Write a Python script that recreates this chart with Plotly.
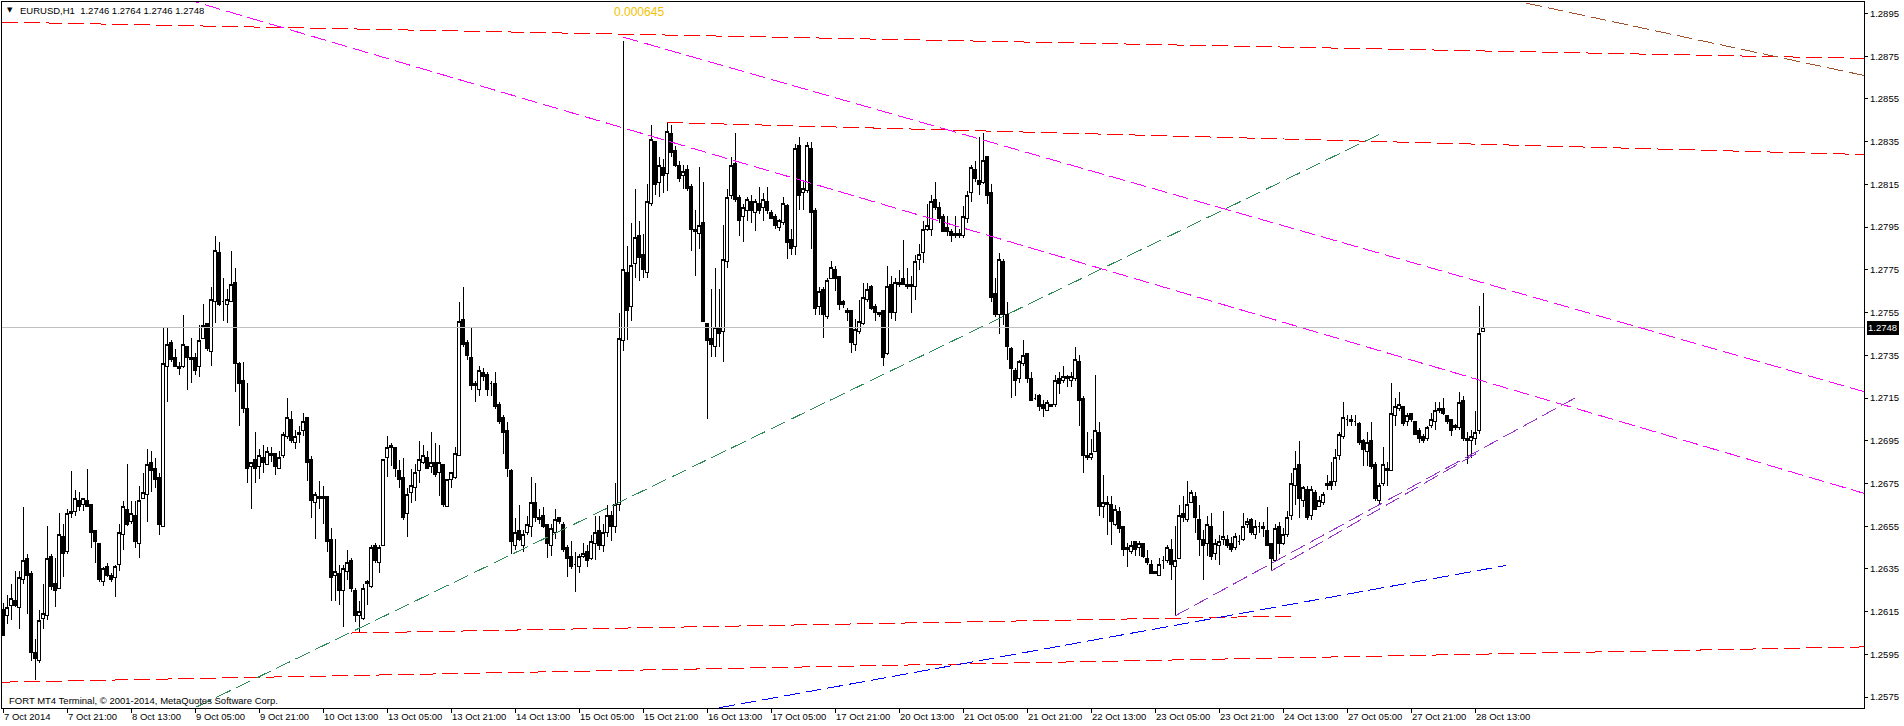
import plotly.graph_objects as go

# ---------------- OHLC data (EURUSD H1, bar index 0 = 7 Oct 2014 05:00) ----------------
opens = [
 1.2616,1.2613,1.2618,1.2620,1.2617,1.2630,1.2640,1.2633,1.2596,1.2592,
 1.2612,1.2613,1.2641,1.2628,1.2626,1.2650,1.2643,1.2662,1.2662,1.2667,
 1.2665,1.2667,1.2665,1.2653,1.2647,1.2629,1.2636,1.2632,1.2631,1.2637,
 1.2651,1.2663,1.2657,1.2660,1.2647,1.2668,1.2670,1.2685,1.2682,1.2678,
 1.2655,1.2730,1.2741,1.2734,1.2730,1.2730,1.2739,1.2734,1.2734,1.2730,
 1.2743,1.2750,1.2737,1.2760,1.2783,1.2760,1.2759,1.2760,1.2769,1.2731,
 1.2723,1.2710,1.2683,1.2686,1.2683,1.2687,1.2684,1.2689,1.2689,1.2682,
 1.2688,1.2697,1.2705,1.2694,1.2698,1.2700,1.2706,1.2686,1.2666,1.2669,
 1.2668,1.2669,1.2649,1.2632,1.2633,1.2625,1.2634,1.2639,1.2625,1.2613,
 1.2612,1.2629,1.2627,1.2646,1.2638,1.2646,1.2687,1.2693,1.2692,1.2681,
 1.2678,1.2661,1.2671,1.2673,1.2681,1.2685,1.2687,1.2683,1.2685,1.2680,
 1.2684,1.2664,1.2677,1.2678,1.2688,1.2752,1.2741,1.2734,1.2722,1.2719,
 1.2727,1.2726,1.2722,1.2722,1.2712,1.2706,1.2700,1.2681,1.2646,1.2653,
 1.2646,1.2652,1.2655,1.2666,1.2658,1.2660,1.2656,1.2646,1.2652,1.2659,
 1.2656,1.2645,1.2641,1.2637,1.2636,1.2641,1.2643,1.2640,1.2647,1.2653,
 1.2646,1.2652,1.2660,1.2655,1.2665,1.2742,1.2774,1.2758,1.2778,1.2791,
 1.2782,1.2774,1.2806,1.2835,1.2816,1.2823,1.2820,1.2839,1.2831,1.2824,
 1.2819,1.2822,1.2814,1.2794,1.2792,1.2797,1.2750,1.2743,1.2739,1.2748,
 1.2746,1.2779,1.2810,1.2825,1.2809,1.2800,1.2803,1.2807,1.2802,1.2806,
 1.2804,1.2807,1.2802,1.2800,1.2795,1.2797,1.2805,1.2789,1.2786,1.2833,
 1.2811,1.2812,1.2832,1.2803,1.2758,1.2766,1.2753,1.2771,1.2775,1.2772,
 1.2760,1.2756,1.2756,1.2740,1.2746,1.2750,1.2761,1.2767,1.2758,1.2755,
 1.2756,1.2736,1.2768,1.2755,1.2768,1.2771,1.2768,1.2767,1.2767,1.2780,
 1.2783,1.2794,1.2794,1.2808,1.2804,1.2800,1.2795,1.2793,1.2792,1.2792,
 1.2791,1.2799,1.2811,1.2822,1.2817,1.2816,1.2828,1.2811,1.2764,1.2754,
 1.2779,1.2754,1.2738,1.2728,1.2724,1.2731,1.2736,1.2724,1.2715,1.2716,
 1.2712,1.2709,1.2712,1.2712,1.2724,1.2723,1.2725,1.2723,1.2724,1.2732,
 1.2715,1.2688,1.2687,1.2690,1.2699,1.2664,1.2665,1.2665,1.2656,1.2662,
 1.2655,1.2645,1.2643,1.2648,1.2645,1.2647,1.2640,1.2637,1.2634,1.2632,
 1.2639,1.2639,1.2644,1.2636,1.2640,1.2661,1.2658,1.2666,1.2669,1.2658,
 1.2649,1.2647,1.2655,1.2642,1.2646,1.2649,1.2649,1.2647,1.2645,1.2648,
 1.2649,1.2656,1.2658,1.2651,1.2655,1.2655,1.2653,1.2647,1.2639,1.2655,
 1.2647,1.2651,1.2660,1.2674,1.2684,1.2667,1.2672,1.2660,1.2671,1.2664,
 1.2666,1.2674,1.2676,1.2676,1.2688,1.2697,1.2705,1.2704,1.2704,1.2703,
 1.2695,1.2690,1.2695,1.2684,1.2667,1.2675,1.2682,1.2681,1.2707,1.2710,
 1.2711,1.2704,1.2708,1.2704,1.2700,1.2697,1.2696,1.2702,1.2704,1.2709,
 1.2710,1.2707,1.2705,1.2701,1.2701,1.2714,1.2696,1.2695,1.2696,1.2700,
 1.2746]

highs = [
 1.2619,1.2623,1.2628,1.2634,1.2634,1.2664,1.2642,1.2634,1.2602,1.2616,
 1.2628,1.2655,1.2642,1.2640,1.2661,1.2656,1.2663,1.2681,1.2672,1.2671,
 1.2668,1.2682,1.2665,1.2653,1.2647,1.2636,1.2638,1.2633,1.2637,1.2656,
 1.2667,1.2684,1.2667,1.2667,1.2674,1.2680,1.2691,1.2690,1.2687,1.2680,
 1.2748,1.2748,1.2742,1.2738,1.2732,1.2754,1.2739,1.2743,1.2736,1.2749,
 1.2759,1.2750,1.2767,1.2791,1.2788,1.2771,1.2766,1.2784,1.2776,1.2732,
 1.2732,1.2722,1.2685,1.2699,1.2691,1.2693,1.2692,1.2692,1.2689,1.2690,
 1.2699,1.2715,1.2709,1.2700,1.2702,1.2708,1.2706,1.2688,1.2671,1.2676,
 1.2674,1.2669,1.2654,1.2649,1.2637,1.2637,1.2644,1.2640,1.2626,1.2620,
 1.2628,1.2630,1.2646,1.2647,1.2646,1.2686,1.2697,1.2694,1.2692,1.2686,
 1.2687,1.2673,1.2682,1.2684,1.2695,1.2693,1.2690,1.2699,1.2694,1.2693,
 1.2684,1.2677,1.2680,1.2692,1.2760,1.2767,1.2742,1.2748,1.2723,1.2730,
 1.2729,1.2727,1.2723,1.2727,1.2713,1.2707,1.2704,1.2682,1.2659,1.2665,
 1.2653,1.2660,1.2678,1.2675,1.2663,1.2664,1.2656,1.2656,1.2663,1.2659,
 1.2657,1.2646,1.2648,1.2643,1.2642,1.2647,1.2646,1.2651,1.2660,1.2660,
 1.2656,1.2665,1.2662,1.2675,1.2755,1.2882,1.2786,1.2797,1.2813,1.2798,
 1.2792,1.2815,1.2843,1.2835,1.2828,1.2827,1.2844,1.2843,1.2833,1.2826,
 1.2824,1.2824,1.2815,1.2803,1.2823,1.2816,1.2750,1.2766,1.2776,1.2766,
 1.2796,1.2813,1.2828,1.2839,1.2810,1.2806,1.2809,1.2810,1.2808,1.2814,
 1.2811,1.2814,1.2803,1.2801,1.2799,1.2809,1.2806,1.2794,1.2834,1.2837,
 1.2817,1.2835,1.2835,1.2804,1.2767,1.2767,1.2771,1.2779,1.2777,1.2772,
 1.2761,1.2757,1.2756,1.2752,1.2761,1.2769,1.2769,1.2768,1.2759,1.2755,
 1.2756,1.2777,1.2772,1.2771,1.2775,1.2789,1.2776,1.2772,1.2782,1.2787,
 1.2798,1.2806,1.2810,1.2816,1.2807,1.2801,1.2800,1.2794,1.2800,1.2794,
 1.2805,1.2812,1.2824,1.2826,1.2837,1.2839,1.2828,1.2815,1.2771,1.2783,
 1.2780,1.2760,1.2739,1.2729,1.2733,1.2742,1.2736,1.2727,1.2717,1.2717,
 1.2714,1.2714,1.2712,1.2726,1.2727,1.2730,1.2726,1.2727,1.2739,1.2735,
 1.2716,1.2699,1.2696,1.2726,1.2704,1.2679,1.2669,1.2669,1.2665,1.2664,
 1.2655,1.2647,1.2648,1.2648,1.2648,1.2647,1.2644,1.2639,1.2634,1.2640,
 1.2641,1.2646,1.2649,1.2655,1.2665,1.2669,1.2676,1.2672,1.2671,1.2665,
 1.2653,1.2660,1.2661,1.2649,1.2651,1.2662,1.2651,1.2650,1.2652,1.2651,
 1.2661,1.2659,1.2659,1.2658,1.2657,1.2657,1.2664,1.2647,1.2656,1.2657,
 1.2654,1.2662,1.2680,1.2690,1.2695,1.2674,1.2674,1.2674,1.2672,1.2669,
 1.2671,1.2679,1.2685,1.2691,1.2699,1.2713,1.2707,1.2707,1.2707,1.2704,
 1.2696,1.2699,1.2704,1.2685,1.2675,1.2692,1.2685,1.2722,1.2715,1.2718,
 1.2711,1.2708,1.2708,1.2704,1.2701,1.2698,1.2702,1.2708,1.2713,1.2713,
 1.2715,1.2707,1.2705,1.2703,1.2718,1.2716,1.2699,1.2700,1.2709,1.2758,
 1.2764]

lows = [
 1.2604,1.2609,1.2611,1.2617,1.2607,1.2628,1.2614,1.2592,1.2583,1.2591,
 1.2607,1.2611,1.2625,1.2617,1.2626,1.2631,1.2642,1.2659,1.2660,1.2662,
 1.2662,1.2664,1.2645,1.2638,1.2629,1.2627,1.2631,1.2629,1.2622,1.2634,
 1.2644,1.2655,1.2656,1.2645,1.2640,1.2668,1.2657,1.2671,1.2673,1.2651,
 1.2655,1.2713,1.2732,1.2730,1.2726,1.2729,1.2719,1.2722,1.2726,1.2725,
 1.2743,1.2737,1.2730,1.2750,1.2758,1.2751,1.2750,1.2760,1.2718,1.2702,
 1.2708,1.2675,1.2663,1.2675,1.2677,1.2680,1.2684,1.2685,1.2679,1.2682,
 1.2687,1.2696,1.2694,1.2691,1.2694,1.2697,1.2676,1.2659,1.2649,1.2663,
 1.2656,1.2643,1.2620,1.2620,1.2618,1.2608,1.2630,1.2624,1.2610,1.2605,
 1.2611,1.2618,1.2626,1.2638,1.2633,1.2646,1.2678,1.2683,1.2678,1.2673,
 1.2658,1.2650,1.2666,1.2667,1.2675,1.2684,1.2682,1.2680,1.2678,1.2669,
 1.2664,1.2664,1.2673,1.2677,1.2688,1.2739,1.2733,1.2719,1.2713,1.2716,
 1.2723,1.2716,1.2716,1.2710,1.2703,1.2689,1.2678,1.2642,1.2644,1.2648,
 1.2643,1.2651,1.2650,1.2657,1.2656,1.2654,1.2640,1.2641,1.2649,1.2656,
 1.2643,1.2631,1.2635,1.2624,1.2633,1.2640,1.2636,1.2639,1.2639,1.2644,
 1.2643,1.2650,1.2648,1.2652,1.2662,1.2737,1.2742,1.2751,1.2771,1.2770,
 1.2771,1.2771,1.2805,1.2810,1.2809,1.2811,1.2812,1.2828,1.2823,1.2816,
 1.2813,1.2812,1.2784,1.2772,1.2785,1.2751,1.2705,1.2734,1.2734,1.2739,
 1.2732,1.2776,1.2808,1.2807,1.2791,1.2788,1.2798,1.2797,1.2793,1.2801,
 1.2798,1.2801,1.2799,1.2794,1.2793,1.2796,1.2780,1.2782,1.2782,1.2803,
 1.2803,1.2811,1.2785,1.2754,1.2754,1.2743,1.2752,1.2771,1.2765,1.2756,
 1.2757,1.2751,1.2736,1.2737,1.2745,1.2749,1.2760,1.2756,1.2751,1.2753,
 1.2730,1.2735,1.2752,1.2751,1.2767,1.2768,1.2766,1.2755,1.2761,1.2775,
 1.2778,1.2793,1.2791,1.2803,1.2797,1.2793,1.2791,1.2788,1.2790,1.2790,
 1.2790,1.2797,1.2807,1.2816,1.2810,1.2815,1.2806,1.2760,1.2753,1.2745,
 1.2749,1.2733,1.2715,1.2716,1.2722,1.2730,1.2722,1.2714,1.2714,1.2709,
 1.2706,1.2709,1.2711,1.2711,1.2717,1.2722,1.2720,1.2720,1.2723,1.2702,
 1.2680,1.2686,1.2686,1.2690,1.2660,1.2659,1.2651,1.2646,1.2655,1.2652,
 1.2641,1.2636,1.2642,1.2641,1.2641,1.2640,1.2637,1.2633,1.2633,1.2632,
 1.2635,1.2638,1.2630,1.2613,1.2640,1.2657,1.2657,1.2666,1.2652,1.2641,
 1.2630,1.2641,1.2639,1.2639,1.2637,1.2646,1.2645,1.2643,1.2644,1.2646,
 1.2648,1.2654,1.2651,1.2649,1.2652,1.2650,1.2646,1.2634,1.2639,1.2642,
 1.2646,1.2650,1.2658,1.2665,1.2659,1.2664,1.2658,1.2658,1.2663,1.2664,
 1.2665,1.2672,1.2672,1.2674,1.2686,1.2696,1.2702,1.2702,1.2702,1.2693,
 1.2683,1.2683,1.2682,1.2667,1.2665,1.2674,1.2674,1.2681,1.2702,1.2709,
 1.2702,1.2702,1.2704,1.2698,1.2694,1.2694,1.2695,1.2701,1.2700,1.2708,
 1.2707,1.2703,1.2697,1.2700,1.2700,1.2695,1.2684,1.2687,1.2693,1.2698,
 1.2746]

closes = [
 1.2604,1.2617,1.2621,1.2618,1.2631,1.2639,1.2632,1.2596,1.2593,1.2611,
 1.2614,1.2640,1.2627,1.2625,1.2651,1.2642,1.2661,1.2661,1.2668,1.2664,
 1.2668,1.2664,1.2652,1.2648,1.2630,1.2635,1.2632,1.2630,1.2636,1.2652,
 1.2664,1.2656,1.2661,1.2648,1.2667,1.2671,1.2684,1.2681,1.2677,1.2656,
 1.2731,1.2740,1.2733,1.2730,1.2729,1.2740,1.2734,1.2733,1.2728,1.2742,
 1.2749,1.2738,1.2761,1.2784,1.2759,1.2760,1.2761,1.2768,1.2731,1.2722,
 1.2710,1.2682,1.2685,1.2682,1.2688,1.2685,1.2690,1.2688,1.2683,1.2687,
 1.2698,1.2706,1.2695,1.2697,1.2699,1.2704,1.2685,1.2667,1.2670,1.2668,
 1.2669,1.2648,1.2631,1.2634,1.2625,1.2635,1.2638,1.2626,1.2613,1.2615,
 1.2626,1.2628,1.2645,1.2639,1.2645,1.2686,1.2692,1.2692,1.2682,1.2677,
 1.2659,1.2670,1.2674,1.2680,1.2686,1.2688,1.2682,1.2685,1.2679,1.2685,
 1.2665,1.2677,1.2680,1.2689,1.2751,1.2740,1.2735,1.2721,1.2721,1.2728,
 1.2725,1.2719,1.2722,1.2711,1.2704,1.2699,1.2682,1.2648,1.2652,1.2649,
 1.2651,1.2656,1.2666,1.2659,1.2659,1.2655,1.2647,1.2654,1.2658,1.2657,
 1.2644,1.2640,1.2636,1.2637,1.2641,1.2642,1.2639,1.2648,1.2652,1.2646,
 1.2652,1.2660,1.2655,1.2665,1.2743,1.2775,1.2756,1.2777,1.2790,1.2781,
 1.2775,1.2807,1.2836,1.2815,1.2824,1.2819,1.2840,1.2830,1.2824,1.2818,
 1.2821,1.2813,1.2794,1.2793,1.2796,1.2751,1.2742,1.2740,1.2748,1.2745,
 1.2780,1.2809,1.2824,1.2808,1.2798,1.2804,1.2808,1.2803,1.2807,1.2803,
 1.2808,1.2803,1.2799,1.2796,1.2798,1.2806,1.2788,1.2785,1.2832,1.2810,
 1.2813,1.2833,1.2802,1.2757,1.2765,1.2754,1.2770,1.2776,1.2771,1.2759,
 1.2759,1.2755,1.2741,1.2747,1.2751,1.2762,1.2766,1.2757,1.2755,1.2754,
 1.2734,1.2767,1.2755,1.2769,1.2769,1.2768,1.2767,1.2768,1.2779,1.2782,
 1.2794,1.2796,1.2807,1.2804,1.2799,1.2793,1.2793,1.2791,1.2791,1.2791,
 1.2800,1.2810,1.2823,1.2818,1.2815,1.2826,1.2810,1.2762,1.2754,1.2780,
 1.2754,1.2739,1.2729,1.2723,1.2732,1.2735,1.2724,1.2714,1.2715,1.2711,
 1.2710,1.2713,1.2711,1.2723,1.2722,1.2725,1.2724,1.2725,1.2733,1.2714,
 1.2688,1.2687,1.2689,1.2700,1.2664,1.2666,1.2666,1.2657,1.2663,1.2654,
 1.2644,1.2644,1.2646,1.2644,1.2647,1.2641,1.2638,1.2633,1.2633,1.2637,
 1.2639,1.2645,1.2637,1.2639,1.2660,1.2659,1.2665,1.2671,1.2659,1.2649,
 1.2646,1.2656,1.2641,1.2647,1.2648,1.2650,1.2646,1.2644,1.2650,1.2648,
 1.2655,1.2657,1.2652,1.2655,1.2655,1.2654,1.2646,1.2640,1.2654,1.2647,
 1.2651,1.2659,1.2675,1.2682,1.2668,1.2673,1.2659,1.2672,1.2663,1.2667,
 1.2670,1.2675,1.2674,1.2687,1.2698,1.2706,1.2705,1.2705,1.2704,1.2694,
 1.2691,1.2694,1.2683,1.2668,1.2674,1.2684,1.2681,1.2708,1.2711,1.2712,
 1.2703,1.2707,1.2705,1.2698,1.2696,1.2695,1.2701,1.2705,1.2709,1.2710,
 1.2708,1.2704,1.2700,1.2702,1.2713,1.2696,1.2695,1.2697,1.2699,1.2745,
 1.2748]

# x-axis labels (every 16 hourly bars)
tick_idx = [0, 16, 32, 48, 64, 80, 96, 112, 128, 144, 160, 176, 192, 208,
            224, 240, 256, 272, 288, 304, 320, 336, 352, 368]
tick_text = ["7 Oct 2014", "7 Oct 21:00", "8 Oct 13:00", "9 Oct 05:00", "9 Oct 21:00",
             "10 Oct 13:00", "13 Oct 05:00", "13 Oct 21:00", "14 Oct 13:00", "15 Oct 05:00",
             "15 Oct 21:00", "16 Oct 13:00", "17 Oct 05:00", "17 Oct 21:00", "20 Oct 13:00",
             "21 Oct 05:00", "21 Oct 21:00", "22 Oct 13:00", "23 Oct 05:00", "23 Oct 21:00",
             "24 Oct 13:00", "27 Oct 05:00", "27 Oct 21:00", "28 Oct 13:00"]

price_ticks = [1.2575, 1.2595, 1.2615, 1.2635, 1.2655, 1.2675, 1.2695, 1.2715, 1.2735,
               1.2755, 1.2775, 1.2795, 1.2815, 1.2835, 1.2855, 1.2875, 1.2895]

# trend lines: (bar index pairs, price pairs)
red_top_x, red_top_y = [-0.25, 465.25], [1.2891, 1.2874]
red_hi_x, red_hi_y = [166, 465.25], [1.2844, 1.2829]
red_low_x, red_low_y = [87, 323.5], [1.2605, 1.2613]
red_bot_x, red_bot_y = [-0.25, 465.25], [1.2582, 1.25985]
mag_up_x, mag_up_y = [155, 465.25], [1.2884, 1.2718]
mag_lo_x, mag_lo_y = [40, 465.25], [1.29049, 1.26704]
green_x, green_y = [48.4, 345.25], [1.25704, 1.28395]
blue_x, blue_y = [179, 375.7], [1.2570, 1.26366]
purple_long_x, purple_long_y = [293, 393], [1.2613, 1.2715]
purple_short_x, purple_short_y = [317, 369.25], [1.2634, 1.2690]
brown_x, brown_y = [370, 465.25], [1.29042, 1.2866]
bid_price = 1.2748

FONT = "Liberation Sans, Arial, sans-serif"
FS = 9.5
DASH = "16px,6px"

fig = go.Figure()

line_specs = [
    (red_top_x, red_top_y, "#FF0000"),
    (red_hi_x, red_hi_y, "#FF0000"),
    (red_low_x, red_low_y, "#FF0000"),
    (red_bot_x, red_bot_y, "#FF0000"),
    (mag_up_x, mag_up_y, "#FF00FF"),
    (mag_lo_x, mag_lo_y, "#FF00FF"),
    (green_x, green_y, "#2E8B57"),
    (blue_x, blue_y, "#0000FF"),
    (purple_long_x, purple_long_y, "#9932CC"),
    (purple_short_x, purple_short_y, "#9932CC"),
    (brown_x, brown_y, "#A0522D"),
]

# bid line
fig.add_trace(go.Scatter(x=[-0.25, 465.25], y=[bid_price, bid_price], mode="lines",
                         line=dict(color="#C0C0C0", width=1), hoverinfo="skip", showlegend=False))

for xs, ys, col in line_specs:
    fig.add_trace(go.Scatter(x=xs, y=ys, mode="lines",
                             line=dict(color=col, width=1, dash=DASH),
                             hoverinfo="skip", showlegend=False))

fig.add_trace(go.Candlestick(
    x=list(range(len(closes))), open=opens, high=highs, low=lows, close=closes,
    increasing=dict(line=dict(color="black", width=1), fillcolor="white"),
    decreasing=dict(line=dict(color="black", width=1), fillcolor="black"),
    whiskerwidth=0, showlegend=False, hoverinfo="skip"))

fig.update_layout(
    width=1904, height=726,
    margin=dict(l=2, r=40, t=2, b=18),
    paper_bgcolor="white", plot_bgcolor="white",
    font=dict(family=FONT, size=FS, color="black"),
    showlegend=False, hovermode=False,
    boxgap=0.2,
    xaxis=dict(
        range=[-0.25, 465.25], rangeslider=dict(visible=False),
        tickmode="array", tickvals=tick_idx, ticktext=tick_text,
        ticks="outside", ticklen=4, tickcolor="black", tickwidth=1,
        ticklabelposition="outside right", tickangle=0,
        showgrid=False, zeroline=False,
        showline=True, linecolor="black", linewidth=1, mirror=True,
        tickfont=dict(family=FONT, size=FS, color="black"),
    ),
    yaxis=dict(
        range=[1.25699, 1.29004], side="right",
        tickmode="array", tickvals=price_ticks,
        ticktext=[f"{v:.4f}" for v in price_ticks],
        ticks="outside", ticklen=3, tickcolor="black", tickwidth=1,
        showgrid=False, zeroline=False,
        showline=True, linecolor="black", linewidth=1, mirror=True,
        tickfont=dict(family=FONT, size=FS, color="black"),
    ),
)

annotations = [
    dict(xref="paper", yref="paper", x=0.0043, y=0.988, text="\u25bc", showarrow=False,
         xanchor="center", yanchor="middle", font=dict(family="DejaVu Sans", size=7, color="black")),
    dict(xref="paper", yref="paper", x=0.0086, y=0.9873,
         text="EURUSD,H1\u00a0\u00a01.2746 1.2764 1.2746 1.2748", showarrow=False,
         xanchor="left", yanchor="middle", font=dict(family=FONT, size=FS, color="black")),
    dict(xref="paper", yref="paper", x=0.0027, y=0.0103,
         text="FORT MT4 Terminal, \u00a9 2001-2014, MetaQuotes Software Corp.", showarrow=False,
         xanchor="left", yanchor="middle", font=dict(family=FONT, size=FS, color="black")),
    dict(xref="paper", yref="paper", x=0.3421, y=0.9858, text="0.000645", showarrow=False,
         xanchor="center", yanchor="middle", font=dict(family=FONT, size=12, color="#F2C200")),
    dict(xref="paper", yref="y", x=1, y=bid_price, text="1.2748", showarrow=False,
         xanchor="left", yanchor="middle", xshift=2, bgcolor="black", borderpad=1,
         font=dict(family=FONT, size=FS, color="white")),
]
fig.update_layout(annotations=annotations)

post = ("document.body.style.margin='0';document.body.style.overflow='hidden';"
        "var s=document.querySelectorAll('.main-svg');"
        "for(var i=0;i<s.length;i++){s[i].style.shapeRendering='crispEdges';}")

fig.write_html("out.html", config={"displayModeBar": False}, post_script=post)
